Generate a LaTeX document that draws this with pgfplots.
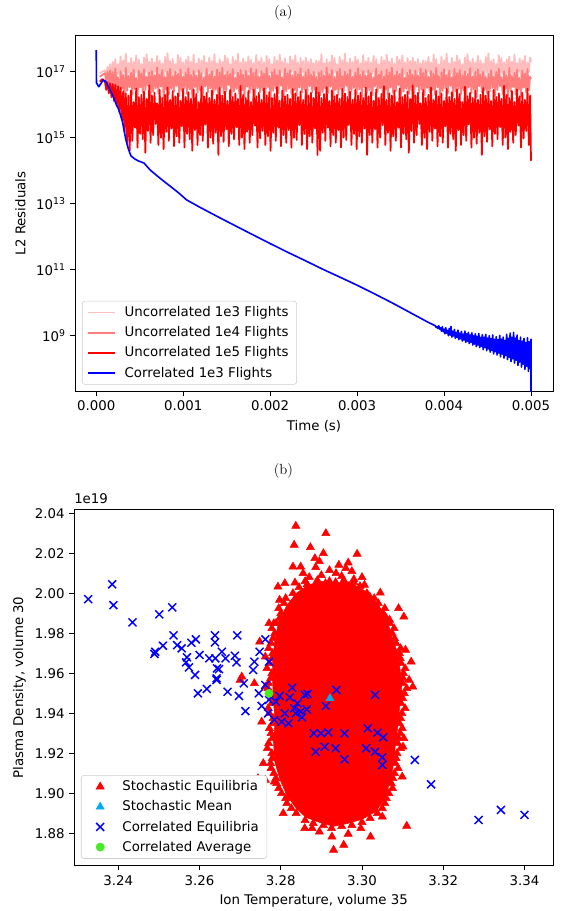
\documentclass[border=0pt]{standalone}
\usepackage{fontspec}
\usepackage{pgfplots}
\usepackage{pgfplotstable}
\pgfplotsset{compat=1.18}
\newfontfamily\dejavu{DejaVu Sans}
\newcommand\lbl{\dejavu\fontsize{10}{12}\selectfont}
\definecolor{ucthree}{RGB}{255,188,188}
\definecolor{ucfour}{RGB}{255,125,125}
\definecolor{avggreen}{RGB}{70,235,40}
\definecolor{legframe}{RGB}{204,204,204}

% uncorrelated runs: t, 1e3, 1e4, 1e5 flights
\pgfplotstableread{
t u3 u4 u5
0.000040 9.0e16 7.0e16 5.0e16
0.000070 1.0e17 8.0e16 6.0e16
0.000100 1.1e17 9.0e16 5.0e16
0.000115 7.5e16 5.0e16 2.8e16
0.000130 1.4e17 1.0e17 4.8e16
0.000145 8.8e16 4.5e16 2.2e16
0.000160 1.7e17 1.1e17 4.5e16
0.000175 6.4e16 4.0e16 1.7e16
0.000190 2.0e17 9.8e16 4.2e16
0.000205 9.5e16 2.8e16 1.3e16
0.000220 2.4e17 1.25e17 4.0e16
0.000235 7.1e16 3.6e16 9.0e15
0.000250 1.7e17 6.8e16 3.6e16
0.000265 8.2e16 2.1e16 6.0e15
0.000280 2.9e17 1.02e17 3.3e16
0.000295 6.8e16 3.0e16 3.5e15
0.000310 2.2e17 8.0e16 2.5e16
0.000325 9.9e16 1.6e16 1.5e15
0.000340 3.5e17 1.3e17 2.2e16
0.000355 7.7e16 2.6e16 7.0e14
0.000370 1.8e17 7.5e16 1.9e16
0.000385 8.5e16 3.4e16 4.0e14
0.000400 2.6e17 9.2e16 2.7e16
0.000415 6.2e16 2.0e16 8.0e14
0.000430 2.0e17 1.15e17 1.2e16
0.000445 9.1e16 2.9e16 2.0e15
0.000460 3.1e17 6.5e16 3.1e16
0.000475 7.3e16 1.7e16 5.0e14
0.000490 2.3e17 1.08e17 1.7e16
0.000505 8.0e16 3.3e16 1.3e15
0.000520 1.7e17 8.8e16 2.0e16
0.000535 6.6e16 2.3e16 9.0e14
0.000550 2.7e17 1.2e17 2.5e16
0.000565 9.3e16 2.7e16 3.5e14
0.000580 3.4e17 7.0e16 1.5e16
0.000595 7.9e16 3.8e16 1.6e15
0.000610 2.0e17 9.5e16 3.8e16
0.000625 8.7e16 1.9e16 7.0e14
0.000640 2.5e17 1.05e17 1.9e16
0.000655 6.5e16 2.4e16 1.2e15
0.000670 1.9e17 7.8e16 2.3e16
0.000685 9.7e16 3.1e16 2.6e15
0.000700 3.0e17 1.35e17 1.1e16
0.000715 7.2e16 2.2e16 6.0e14
0.000730 2.2e17 8.3e16 2.8e16
0.000745 8.4e16 3.5e16 1.0e15
0.000760 1.8e17 1.12e17 1.6e16
0.000775 6.9e16 1.6e16 4.5e14
0.000790 2.8e17 6.9e16 2.0e16
0.000805 9.0e16 2.8e16 1.5e15
0.000820 3.6e17 9.9e16 3.3e16
0.000835 7.6e16 2.0e16 8.0e14
0.000850 2.1e17 1.22e17 1.4e16
0.000865 8.1e16 3.0e16 1.9e15
0.000880 2.4e17 7.4e16 2.6e16
0.000895 6.3e16 2.5e16 5.5e14
0.000910 1.7e17 1.0e17 1.8e16
0.000925 9.4e16 3.7e16 1.1e15
0.000940 3.2e17 8.6e16 2.2e16
0.000955 7.4e16 1.8e16 7.0e14
0.000970 2.6e17 1.18e17 1.3e16
0.000985 8.6e16 2.6e16 2.2e15
0.001000 1.9e17 7.1e16 3.0e16
0.001015 6.7e16 3.2e16 5.0e14
0.001030 2.3e17 9.4e16 1.7e16
0.001045 9.2e16 2.1e16 1.3e15
0.001060 2.9e17 1.28e17 2.4e16
0.001075 7.8e16 2.9e16 9.0e14
0.001090 2.0e17 8.1e16 1.5e16
0.001105 8.3e16 1.7e16 4.0e14
0.001120 3.3e17 1.06e17 2.9e16
0.001135 6.1e16 3.4e16 1.7e15
0.001150 1.8e17 7.6e16 2.1e16
0.001165 9.6e16 2.3e16 6.0e14
0.001180 2.5e17 1.1e17 1.2e16
0.001195 7.0e16 2.7e16 1.2e15
0.001210 2.2e17 9.0e16 3.5e16
0.001225 8.9e16 1.9e16 8.0e14
0.001240 3.0e17 6.7e16 1.8e16
0.001255 6.6e16 3.6e16 2.5e15
0.001270 1.9e17 1.24e17 2.3e16
0.001285 9.8e16 2.4e16 5.0e14
0.001300 2.7e17 8.4e16 1.6e16
0.001315 7.5e16 3.1e16 1.0e15
0.001330 2.1e17 1.03e17 2.7e16
0.001345 8.2e16 2.0e16 6.5e14
0.001360 3.4e17 7.3e16 1.4e16
0.001375 6.4e16 2.8e16 1.4e15
0.001390 1.8e17 1.16e17 2.0e16
0.001405 9.1e16 1.6e16 3.0e14
0.001420 2.4e17 9.6e16 3.2e16
0.001435 7.3e16 3.3e16 1.1e15
0.001450 2.0e17 1.32e17 1.9e16
0.001465 8.7e16 2.2e16 7.5e14
0.001480 3.1e17 7.9e16 2.5e16
0.001495 6.8e16 2.6e16 1.8e15
0.001510 2.6e17 1.01e17 1.3e16
0.001525 9.4e16 3.9e16 5.5e14
0.001540 1.7e17 8.7e16 2.8e16
0.001555 7.9e16 1.8e16 1.3e15
0.001570 2.8e17 1.21e17 1.7e16
0.001585 8.0e16 2.5e16 9.0e14
0.001600 2.2e17 6.6e16 2.2e16
0.001615 6.5e16 3.0e16 2.1e15
0.001630 3.5e17 9.3e16 1.5e16
0.001645 9.3e16 2.1e16 6.0e14
0.001660 1.9e17 1.13e17 3.7e16
0.001675 7.1e16 2.7e16 1.0e15
0.001690 2.5e17 8.2e16 2.0e16
0.001705 8.5e16 1.7e16 4.5e14
0.001720 2.0e17 1.07e17 1.6e16
0.001735 6.9e16 3.5e16 1.5e15
0.001750 2.9e17 7.7e16 2.6e16
0.001765 9.0e16 2.3e16 7.0e14
0.001780 2.3e17 1.26e17 1.2e16
0.001795 7.7e16 2.9e16 1.2e15
0.001810 1.8e17 9.1e16 2.9e16
0.001825 8.4e16 1.9e16 2.3e15
0.001840 3.2e17 1.14e17 1.8e16
0.001855 6.2e16 3.2e16 5.0e14
0.001870 2.1e17 7.0e16 2.3e16
0.001885 9.5e16 2.4e16 9.5e14
0.001900 2.6e17 1.04e17 1.4e16
0.001915 7.4e16 2.8e16 1.6e15
0.001930 1.9e17 8.9e16 3.1e16
0.001945 8.8e16 2.0e16 6.0e14
0.001960 3.0e17 1.31e17 1.9e16
0.001975 6.7e16 3.4e16 1.1e15
0.001990 2.4e17 7.5e16 2.4e16
0.002005 9.2e16 1.6e16 4.0e14
0.002020 1.7e17 9.7e16 1.6e16
0.002035 7.6e16 2.6e16 1.4e15
0.002050 2.8e17 1.19e17 2.1e16
0.002065 8.1e16 3.1e16 8.0e14
0.002080 2.2e17 8.0e16 3.4e16
0.002095 6.3e16 2.2e16 2.0e15
0.002110 3.3e17 1.09e17 1.3e16
0.002125 9.7e16 3.7e16 5.5e14
0.002140 2.0e17 6.8e16 2.7e16
0.002155 7.2e16 1.8e16 1.2e15
0.002170 2.5e17 1.23e17 1.8e16
0.002185 8.6e16 2.5e16 7.0e14
0.002200 1.8e17 9.0e16 2.0e16
0.002215 6.6e16 3.0e16 1.7e15
0.002230 2.9e17 1.11e17 1.5e16
0.002245 9.9e16 2.1e16 5.0e14
0.002260 2.3e17 7.8e16 3.0e16
0.002275 7.8e16 2.7e16 1.0e15
0.002290 3.1e17 1.02e17 2.2e16
0.002305 8.3e16 1.9e16 8.5e14
0.002320 1.9e17 8.5e16 1.7e16
0.002335 6.0e16 3.3e16 2.4e15
0.002350 2.6e17 1.27e17 2.5e16
0.002365 9.6e16 2.3e16 6.0e14
0.002380 2.1e17 7.2e16 1.4e16
0.002395 7.0e16 2.9e16 1.3e15
0.002410 2.7e17 9.8e16 2.8e16
0.002425 8.9e16 1.7e16 4.5e14
0.002440 2.0e17 1.17e17 1.9e16
0.002455 6.4e16 3.6e16 1.1e15
0.002470 2.4e17 8.3e16 2.3e16
0.002485 9.1e16 2.4e16 7.0e14
0.002500 1.8e17 1.0e17 1.6e16
0.002515 7.5e16 2.8e16 1.9e15
0.002530 2.2e17 7.0e16 3.3e16
0.002545 8.0e16 2.2e16 3.0e14
0.002560 2.1e17 9.5e16 2.4e16
0.002575 8.2e16 1.9e16 4.0e14
0.002590 3.4e17 1.05e17 1.6e16
0.002605 6.4e16 2.4e16 1.4e15
0.002620 1.8e17 7.8e16 2.1e16
0.002635 9.1e16 3.1e16 8.0e14
0.002650 2.4e17 1.35e17 3.4e16
0.002665 7.3e16 2.2e16 2.0e15
0.002680 2.0e17 8.3e16 1.3e16
0.002695 8.7e16 3.5e16 5.5e14
0.002710 3.1e17 1.12e17 2.7e16
0.002725 6.8e16 1.6e16 1.2e15
0.002740 2.6e17 6.9e16 1.8e16
0.002755 9.4e16 2.8e16 7.0e14
0.002770 1.7e17 9.9e16 2.0e16
0.002785 7.9e16 2.0e16 1.7e15
0.002800 2.8e17 1.22e17 1.5e16
0.002815 8.0e16 3.0e16 5.0e14
0.002830 2.2e17 7.4e16 3.0e16
0.002845 6.5e16 2.5e16 1.0e15
0.002860 3.5e17 1.0e17 2.2e16
0.002875 9.3e16 3.7e16 8.5e14
0.002890 1.9e17 8.6e16 1.7e16
0.002905 7.1e16 1.8e16 2.4e15
0.002920 2.5e17 1.18e17 2.5e16
0.002935 8.5e16 2.6e16 6.0e14
0.002950 2.0e17 7.1e16 1.4e16
0.002965 6.9e16 3.2e16 1.3e15
0.002980 2.9e17 9.4e16 2.8e16
0.002995 9.0e16 2.1e16 4.5e14
0.003010 2.3e17 1.28e17 1.9e16
0.003025 7.7e16 2.9e16 1.1e15
0.003040 1.8e17 8.1e16 2.3e16
0.003055 8.4e16 1.7e16 7.0e14
0.003070 3.2e17 1.06e17 1.6e16
0.003085 6.2e16 3.4e16 1.9e15
0.003100 2.1e17 7.6e16 3.3e16
0.003115 9.5e16 2.3e16 3.0e14
0.003130 2.6e17 1.1e17 1.8e16
0.003145 7.4e16 2.7e16 1.2e15
0.003160 1.9e17 9.0e16 2.4e16
0.003175 8.8e16 1.9e16 7.0e14
0.003190 3.0e17 6.7e16 1.3e16
0.003205 6.7e16 3.6e16 1.8e15
0.003220 2.4e17 1.24e17 2.9e16
0.003235 9.2e16 2.4e16 5.0e14
0.003250 1.7e17 8.4e16 1.6e16
0.003265 7.6e16 3.1e16 1.0e15
0.003280 2.8e17 1.03e17 2.1e16
0.003295 8.1e16 2.0e16 2.4e15
0.003310 2.2e17 7.3e16 3.6e16
0.003325 6.3e16 2.8e16 6.0e14
0.003340 3.3e17 1.16e17 1.4e16
0.003355 9.7e16 1.6e16 1.4e15
0.003370 2.0e17 9.6e16 2.2e16
0.003385 7.2e16 3.3e16 4.0e14
0.003400 2.5e17 1.32e17 1.9e16
0.003415 8.6e16 2.2e16 1.1e15
0.003430 1.8e17 7.9e16 2.7e16
0.003445 6.6e16 2.6e16 8.0e14
0.003460 2.9e17 1.01e17 1.2e16
0.003475 9.9e16 3.9e16 2.0e15
0.003490 2.3e17 8.7e16 3.1e16
0.003505 7.8e16 1.8e16 5.0e14
0.003520 3.1e17 1.21e17 1.7e16
0.003535 8.3e16 2.5e16 1.3e15
0.003550 1.9e17 6.6e16 2.0e16
0.003565 6.0e16 3.0e16 9.0e14
0.003580 2.6e17 9.3e16 2.5e16
0.003595 9.6e16 2.1e16 3.5e14
0.003610 2.1e17 1.13e17 1.5e16
0.003625 7.0e16 2.7e16 1.6e15
0.003640 2.7e17 8.2e16 3.8e16
0.003655 8.9e16 1.7e16 7.0e14
0.003670 2.0e17 1.07e17 1.9e16
0.003685 6.4e16 3.5e16 1.2e15
0.003700 2.4e17 7.7e16 2.3e16
0.003715 9.1e16 2.3e16 2.6e15
0.003730 1.8e17 1.26e17 1.1e16
0.003745 7.5e16 2.9e16 6.0e14
0.003760 2.2e17 9.1e16 2.8e16
0.003775 8.0e16 1.9e16 1.0e15
0.003790 2.1e17 1.14e17 1.6e16
0.003805 7.5e16 3.2e16 4.5e14
0.003820 2.8e17 7.0e16 2.0e16
0.003835 8.8e16 2.4e16 1.5e15
0.003850 1.9e17 1.04e17 3.3e16
0.003865 6.4e16 2.8e16 8.0e14
0.003880 3.3e17 8.9e16 1.4e16
0.003895 9.5e16 2.0e16 1.9e15
0.003910 2.4e17 1.31e17 2.6e16
0.003925 7.1e16 3.4e16 5.5e14
0.003940 1.7e17 7.5e16 1.8e16
0.003955 8.2e16 1.6e16 1.1e15
0.003970 2.9e17 9.7e16 2.2e16
0.003985 6.8e16 2.6e16 7.0e14
0.004000 2.2e17 1.19e17 1.3e16
0.004015 9.9e16 3.1e16 2.2e15
0.004030 3.5e17 8.0e16 3.0e16
0.004045 7.7e16 2.2e16 5.0e14
0.004060 1.8e17 1.09e17 1.7e16
0.004075 8.5e16 3.7e16 1.3e15
0.004090 2.6e17 6.8e16 2.4e16
0.004105 6.2e16 1.8e16 9.0e14
0.004120 2.0e17 1.23e17 1.5e16
0.004135 9.1e16 2.5e16 4.0e14
0.004150 3.1e17 9.0e16 2.9e16
0.004165 7.3e16 3.0e16 1.7e15
0.004180 2.3e17 1.11e17 2.1e16
0.004195 8.0e16 2.1e16 6.0e14
0.004210 1.7e17 7.8e16 1.2e16
0.004225 6.6e16 2.7e16 1.2e15
0.004240 2.7e17 1.02e17 3.5e16
0.004255 9.3e16 1.9e16 8.0e14
0.004270 3.4e17 8.5e16 1.8e16
0.004285 7.9e16 3.3e16 2.5e15
0.004300 2.0e17 1.27e17 2.3e16
0.004315 8.7e16 2.3e16 5.0e14
0.004330 2.5e17 7.2e16 1.6e16
0.004345 6.5e16 2.9e16 1.0e15
0.004360 1.9e17 9.8e16 2.7e16
0.004375 9.7e16 1.7e16 6.5e14
0.004390 3.0e17 1.17e17 1.4e16
0.004405 7.2e16 3.6e16 1.4e15
0.004420 2.2e17 8.3e16 2.0e16
0.004435 8.4e16 2.4e16 3.0e14
0.004450 1.8e17 1.0e17 3.2e16
0.004465 6.9e16 2.8e16 1.1e15
0.004480 2.8e17 7.0e16 1.9e16
0.004495 9.0e16 2.2e16 7.5e14
0.004510 3.6e17 8.5e16 2.5e16
0.004525 7.6e16 2.5e16 1.8e15
0.004540 2.1e17 1.1e17 1.3e16
0.004555 8.1e16 3.2e16 5.5e14
0.004570 2.4e17 7.2e16 2.8e16
0.004585 6.3e16 1.8e16 1.3e15
0.004600 1.7e17 9.8e16 1.7e16
0.004615 9.4e16 2.8e16 9.0e14
0.004630 3.2e17 1.25e17 2.2e16
0.004645 7.4e16 3.6e16 2.1e15
0.004660 2.6e17 6.8e16 1.5e16
0.004675 8.6e16 2.1e16 6.0e14
0.004690 1.9e17 1.02e17 3.7e16
0.004705 6.7e16 3.0e16 1.0e15
0.004720 2.3e17 8.0e16 2.0e16
0.004735 9.2e16 1.6e16 4.5e14
0.004750 2.9e17 1.3e17 1.6e16
0.004765 7.8e16 2.6e16 1.5e15
0.004780 2.0e17 7.5e16 2.6e16
0.004795 8.3e16 3.4e16 7.0e14
0.004810 3.3e17 9.2e16 1.2e16
0.004825 6.1e16 2.0e16 1.2e15
0.004840 1.8e17 1.15e17 2.9e16
0.004855 9.6e16 2.9e16 2.3e15
0.004870 2.5e17 6.5e16 1.8e16
0.004885 7.0e16 1.7e16 5.0e14
0.004900 2.2e17 1.08e17 2.3e16
0.004915 8.9e16 3.3e16 9.5e14
0.004930 3.0e17 8.8e16 1.4e16
0.004945 6.6e16 2.3e16 1.6e15
0.004960 1.9e17 1.2e17 3.1e16
0.004975 9.8e16 2.7e16 6.0e14
0.004990 2.7e17 7.0e16 1.9e16
0.005000 2.0e17 6.0e16 2.0e14
}\uncorr

% correlated run
\pgfplotstableread{
t r
0 4.5e17
0.000003 4.5e16
0.00003 3.5e16
0.00008 5.6e16
0.00011 5.0e16
0.00014 3.5e16
0.00018 2.2e16
0.00022 1.2e16
0.00026 7.0e15
0.00030 3.2e15
0.00034 9.0e14
0.00037 4.5e14
0.00040 2.8e14
0.00044 2.3e14
0.00048 2.0e14
0.00055 1.7e14
0.00062 1.05e14
0.00070 7.0e13
0.00076 5.2e13
0.00085 3.4e13
0.00095 2.1e13
0.00104 1.3e13
0.0012 7.6e12
0.0014 4.0e12
0.0016 2.14e12
0.0018 1.15e12
0.0020 6.2e11
0.0022 3.4e11
0.0024 1.9e11
0.0026 1.05e11
0.0028 6.0e10
0.0030 3.4e10
0.0032 1.86e10
0.0034 1.0e10
0.0036 5.2e9
0.0038 2.7e9
0.00390 2.0e9
0.00391 1.78e9
0.00392 1.9e9
0.00393 1.66e9
0.00394 2.0e9
0.00395 1.58e9
0.00396 1.74e9
0.00397 1.38e9
0.00398 1.86e9
0.00399 1.32e9
0.00400 1.58e9
0.00401 1.15e9
0.00402 1.74e9
0.00403 1.2e9
0.00404 1.45e9
0.00405 1.0e9
0.00406 1.66e9
0.00407 1.05e9
0.00408 1.9e9
0.00409 9.1e8
0.00410 1.38e9
0.00411 9.8e8
0.00412 1.55e9
0.00413 8.3e8
0.00414 1.26e9
0.00415 8.9e8
0.00416 1.48e9
0.00417 7.6e8
0.00418 1.2e9
0.00419 8.1e8
0.00420 1.35e9
0.00421 6.9e8
0.00422 1.12e9
0.00423 7.4e8
0.00424 1.38e9
0.00425 6.3e8
0.00426 1.15e9
0.00427 6.8e8
0.00428 1.26e9
0.00429 5.8e8
0.00430 1.05e9
0.00431 6.3e8
0.00432 1.23e9
0.00433 5.2e8
0.00434 1.0e9
0.00435 5.6e8
0.00436 1.15e9
0.00437 4.7e8
0.00438 9.5e8
0.00439 5.2e8
0.00440 1.17e9
0.00441 4.4e8
0.00442 8.9e8
0.00443 4.8e8
0.00444 1.07e9
0.00445 3.8e8
0.00446 9.1e8
0.00447 4.4e8
0.00448 1.1e9
0.00449 3.5e8
0.00450 8.5e8
0.00451 4.0e8
0.00452 1.0e9
0.00453 3.2e8
0.00454 8.3e8
0.00455 3.6e8
0.00456 1.05e9
0.00457 2.8e8
0.00458 7.9e8
0.00459 3.3e8
0.00460 9.3e8
0.00461 2.6e8
0.00462 7.6e8
0.00463 2.95e8
0.00464 1.02e9
0.00465 2.3e8
0.00466 7.9e8
0.00467 2.75e8
0.00468 9.1e8
0.00469 2.1e8
0.00470 7.2e8
0.00471 2.5e8
0.00472 1.1e9
0.00473 1.9e8
0.00474 8.3e8
0.00475 2.2e8
0.00476 1.2e9
0.00477 1.66e8
0.00478 8.9e8
0.00479 2.0e8
0.00480 1.26e9
0.00481 1.48e8
0.00482 8.5e8
0.00483 1.8e8
0.00484 1.05e9
0.00485 1.26e8
0.00486 7.1e8
0.00487 1.58e8
0.00488 9.1e8
0.00489 1.12e8
0.00490 6.9e8
0.00491 1.38e8
0.00492 8.3e8
0.00493 9.5e7
0.00494 6.3e8
0.00495 1.2e8
0.00496 8.7e8
0.00497 8.3e7
0.00498 6.6e8
0.00499 1.0e8
0.00500 7.9e8
0.00500 1.0e6
}\corr

\begin{document}
\begin{tikzpicture}
\path[use as bounding box] (0,0) rectangle (422.25pt,-683.25pt);
\pgfplotsset{
  mpl/.style={
    scale only axis,
    tick align=outside, tick pos=left,
    major tick length=3.5pt,
    tick style={black, line width=0.6pt},
    axis line style={line width=0.6pt},
    tick label style={font=\lbl},
    every axis y label/.style={at={(axis description cs:0,0.5)}, xshift=-41pt, rotate=90, anchor=center, font=\lbl},
    every axis x label/.style={at={(axis description cs:0.5,0)}, yshift=-26pt, anchor=center, font=\lbl},
    legend style={at={(0.0146,0.0196)}, anchor=south west, font=\lbl, draw=legframe,
      rounded corners=2pt, fill=white, row sep=2pt, inner xsep=4pt, inner ysep=2pt},
    legend cell align=left,
    legend image code/.code={%
      \path (0pt,0pt) (24.5pt,0pt);
      \draw[mark repeat=2, mark phase=2, ##1] plot coordinates {(0pt,0pt) (10pt,0pt) (20pt,0pt)};},
  },
}

\begin{axis}[mpl, name=a,
  at={(56.25pt,-26.25pt)}, anchor=north west,
  width=358.5pt, height=267.5pt,
  xmin=-0.000244, xmax=0.005253,
  ymode=log, ymin=2.02e7, ymax=1.29e18,
  xtick={0,0.001,0.002,0.003,0.004,0.005},
  scaled x ticks=false,
  xticklabel style={/pgf/number format/.cd, fixed, fixed zerofill, precision=3, assume math mode=true},
  ytick={1e9,1e11,1e13,1e15,1e17},
  yticklabels={10\textsuperscript{9},10\textsuperscript{11},10\textsuperscript{13},10\textsuperscript{15},10\textsuperscript{17}},
  yminorticks=false,
  xlabel={Time (s)},
  ylabel={L2 Residuals},
]
\addplot[ucthree, line width=1.3pt, line join=round] table[x=t, y=u3] {\uncorr};
\addlegendentry{Uncorrelated 1e3 Flights}
\addplot[ucfour, line width=1.3pt, line join=round] table[x=t, y=u4] {\uncorr};
\addlegendentry{Uncorrelated 1e4 Flights}
\addplot[red, line width=1.3pt, line join=round] table[x=t, y=u5] {\uncorr};
\addlegendentry{Uncorrelated 1e5 Flights}
\addplot[blue, line width=1.2pt, line join=round] table[x=t, y=r] {\corr};
\addlegendentry{Correlated 1e3 Flights}
\end{axis}

\begin{axis}[mpl, name=b,
  at={(55.5pt,-382pt)}, anchor=north west,
  width=359.5pt, height=267.3pt,
  xmin=3.2291, xmax=3.3471,
  ymin=1.8638, ymax=2.042,
  xtick={3.24,3.26,3.28,3.30,3.32,3.34},
  ytick={1.88,1.90,1.92,1.94,1.96,1.98,2.00,2.02,2.04},
  scaled ticks=false,
  ticklabel style={/pgf/number format/.cd, fixed, fixed zerofill, precision=2, assume math mode=true},
  xlabel={Ion Temperature, volume 35},
  ylabel={Plasma Density, volume 30},
]
% solid core of the stochastic cloud
\addplot[forget plot, draw=red, fill=red] coordinates {
(3.2862,2.0035) (3.2895,2.0062) (3.2930,2.0048) (3.2968,2.0058) (3.3005,2.0015)
(3.3038,1.9950) (3.3062,1.9870) (3.3072,1.9790) (3.3088,1.9700) (3.3095,1.9600)
(3.3098,1.9510) (3.3092,1.9420) (3.3088,1.9330) (3.3082,1.9240) (3.3078,1.9150)
(3.3070,1.9060) (3.3055,1.8975) (3.3035,1.8910) (3.3000,1.8870) (3.2965,1.8850)
(3.2930,1.8835) (3.2895,1.8855) (3.2862,1.8880) (3.2838,1.8925) (3.2815,1.8990)
(3.2798,1.9070) (3.2785,1.9160) (3.2782,1.9260) (3.2786,1.9360) (3.2782,1.9460)
(3.2780,1.9560) (3.2780,1.9660) (3.2785,1.9760) (3.2795,1.9860) (3.2815,1.9940)
(3.2838,2.0000)
} -- cycle;
\addplot[only marks, mark=triangle*, mark size=3.5pt, red] coordinates {
(3.2837,2.0337) (3.2911,2.0300) (3.2833,2.0242) (3.2873,2.0230) (3.2884,2.0175)
(3.2988,2.0197) (3.2830,2.0133) (3.2849,2.0133) (3.2886,2.0130) (3.2943,2.0142)
(3.2966,2.0153) (3.2936,2.0100) (3.2793,2.0033) (3.2810,2.0050) (3.2835,2.0053)
(3.3006,2.0042) (3.3045,2.0003) (3.3019,1.9983) (3.2797,1.9967) (3.3090,1.9925)
(3.3103,1.9883) (3.3068,1.9867) (3.2771,1.9850) (3.2788,1.9850) (3.2748,1.9758)
(3.2762,1.9683) (3.2704,1.9583) (3.3121,1.9658) (3.3107,1.9717)
(3.2870,2.0080) (3.2900,2.0090) (3.2950,2.0085) (3.2980,2.0070) (3.2860,2.0060)
(3.2920,2.0115) (3.2855,2.0100) (3.2975,2.0110) (3.2895,2.0160) (3.2960,2.0125)
(3.2905,2.0200) (3.2920,2.0060) (3.3000,2.0080)
(3.2700,1.9567) (3.2735,1.9550) (3.2762,1.9533) (3.2753,1.9358) (3.2757,1.9150)
(3.2744,1.9075) (3.2762,1.9067) (3.2784,1.9058) (3.2806,1.8900) (3.2824,1.8983)
(3.2830,2.0000) (3.2808,1.9950) (3.2800,1.9900) (3.2783,1.9850) (3.2785,1.9800)
(3.2776,1.9750) (3.2780,1.9700) (3.2772,1.9650) (3.2778,1.9600) (3.2770,1.9550)
(3.2776,1.9500) (3.2778,1.9450) (3.2772,1.9400) (3.2780,1.9350) (3.2776,1.9300)
(3.2770,1.9250) (3.2778,1.9200) (3.2775,1.9150) (3.2783,1.9100) (3.2790,1.9050)
(3.2802,1.9000) (3.2815,1.8950) (3.2838,1.8900)
(3.2812,1.9975) (3.2795,1.9925) (3.2797,1.9875) (3.2778,1.9825) (3.2781,1.9775)
(3.2770,1.9725) (3.2779,1.9675) (3.2766,1.9625) (3.2775,1.9575) (3.2768,1.9525)
(3.2777,1.9475) (3.2769,1.9425) (3.2781,1.9375) (3.2772,1.9325) (3.2779,1.9275)
(3.2767,1.9225) (3.2779,1.9175) (3.2776,1.9125) (3.2788,1.9075) (3.2795,1.9025)
(3.2812,1.8975) (3.2826,1.8925)
(3.2859,1.8825) (3.2877,1.8825) (3.2895,1.8808) (3.2926,1.8783) (3.2930,1.8717)
(3.2955,1.8742) (3.2966,1.8797) (3.2997,1.8825) (3.3021,1.8783) (3.3050,1.8883)
(3.3059,1.9000) (3.3110,1.8837)
(3.2860,1.8865) (3.2880,1.8850) (3.2905,1.8840) (3.2925,1.8825) (3.2950,1.8835)
(3.2975,1.8840) (3.3000,1.8855) (3.3020,1.8875)
(3.2845,2.0030) (3.2865,2.0045) (3.2890,2.0065) (3.2910,2.0050) (3.2935,2.0055)
(3.2955,2.0065) (3.2980,2.0055) (3.2995,2.0035)
(3.3099,1.9083) (3.3103,1.9275) (3.3101,1.9233) (3.3125,1.9533) (3.3116,1.9567)
(3.3012,2.0000) (3.3040,1.9950) (3.3052,1.9900) (3.3068,1.9850) (3.3074,1.9800)
(3.3084,1.9750) (3.3092,1.9700) (3.3096,1.9650) (3.3102,1.9600) (3.3100,1.9550)
(3.3104,1.9500) (3.3096,1.9450) (3.3098,1.9400) (3.3092,1.9350) (3.3094,1.9300)
(3.3088,1.9250) (3.3086,1.9200) (3.3082,1.9150) (3.3080,1.9100) (3.3072,1.9050)
(3.3066,1.9000) (3.3056,1.8950) (3.3038,1.8900)
(3.3030,1.9975) (3.3056,1.9925) (3.3060,1.9875) (3.3079,1.9825) (3.3080,1.9775)
(3.3095,1.9725) (3.3094,1.9675) (3.3106,1.9625) (3.3101,1.9575) (3.3110,1.9525)
(3.3100,1.9475) (3.3106,1.9425) (3.3095,1.9375) (3.3099,1.9325) (3.3090,1.9275)
(3.3095,1.9225) (3.3084,1.9175) (3.3089,1.9125) (3.3076,1.9075) (3.3075,1.9025)
(3.3060,1.8975) (3.3050,1.8925)
};
\addlegendentry{Stochastic Equilibria}
\addplot[only marks, mark=triangle*, mark size=3.5pt, cyan] coordinates {(3.2921,1.9475)};
\addlegendentry{Stochastic Mean}
\addplot[only marks, mark=x, mark size=4.2pt, blue, mark options={line width=1.1pt}] coordinates {
(3.2326,1.9971) (3.2385,2.0045) (3.2388,1.9941) (3.2435,1.9855) (3.2501,1.9895)
(3.2533,1.9930) (3.2489,1.9697) (3.2491,1.9708) (3.2510,1.9738) (3.2536,1.9790)
(3.2545,1.9741) (3.2556,1.9725) (3.2569,1.9680) (3.2567,1.9655) (3.2574,1.9630)
(3.2589,1.9592) (3.2580,1.9753) (3.2591,1.9770) (3.2600,1.9692) (3.2624,1.9675)
(3.2638,1.9790) (3.2638,1.9755) (3.2639,1.9675) (3.2643,1.9625) (3.2648,1.9621)
(3.2642,1.9575) (3.2655,1.9708) (3.2664,1.9675) (3.2687,1.9688) (3.2691,1.9655)
(3.2693,1.9790) (3.2732,1.9617) (3.2735,1.9658) (3.2748,1.9708) (3.2762,1.9770)
(3.2771,1.9658)
(3.2596,1.9500) (3.2618,1.9522) (3.2642,1.9567) (3.2669,1.9508) (3.2697,1.9487)
(3.2709,1.9550) (3.2713,1.9411) (3.2746,1.9500) (3.2753,1.9437) (3.2769,1.9400)
(3.2762,1.9542) (3.2771,1.9467) (3.2784,1.9367) (3.2788,1.9458) (3.2797,1.9487)
(3.2802,1.9358) (3.2810,1.9400) (3.2819,1.9350) (3.2822,1.9480) (3.2828,1.9528)
(3.2833,1.9425) (3.2837,1.9400) (3.2841,1.9450) (3.2849,1.9408) (3.2852,1.9380)
(3.2859,1.9492) (3.2866,1.9497) (3.2864,1.9420) (3.2881,1.9300) (3.2886,1.9208)
(3.2899,1.9300) (3.2908,1.9233) (3.2917,1.9305) (3.2911,1.9437) (3.2937,1.9517)
(3.2935,1.9225) (3.2957,1.9300) (3.2957,1.9170) (3.3010,1.9225) (3.3014,1.9325)
(3.3032,1.9492) (3.3032,1.9208) (3.3038,1.9303) (3.3052,1.9280) (3.3050,1.9180)
(3.3050,1.9142) (3.3130,1.9167) (3.3170,1.9045) (3.3287,1.8867) (3.3342,1.8917)
(3.3400,1.8892)
};
\addlegendentry{Correlated Equilibria}
\addplot[only marks, mark=*, mark size=3.1pt, avggreen] coordinates {(3.2771,1.9500)};
\addlegendentry{Correlated Average}
\end{axis}

\node[anchor=south west, font=\lbl, inner sep=0pt] at ([yshift=4pt]b.north west) {1e19};
\node[font=\fontsize{11}{13}\selectfont] at (212.5pt,-10pt) {(a)};
\node[font=\fontsize{11}{13}\selectfont] at (212.5pt,-353pt) {(b)};
\end{tikzpicture}
\end{document}
